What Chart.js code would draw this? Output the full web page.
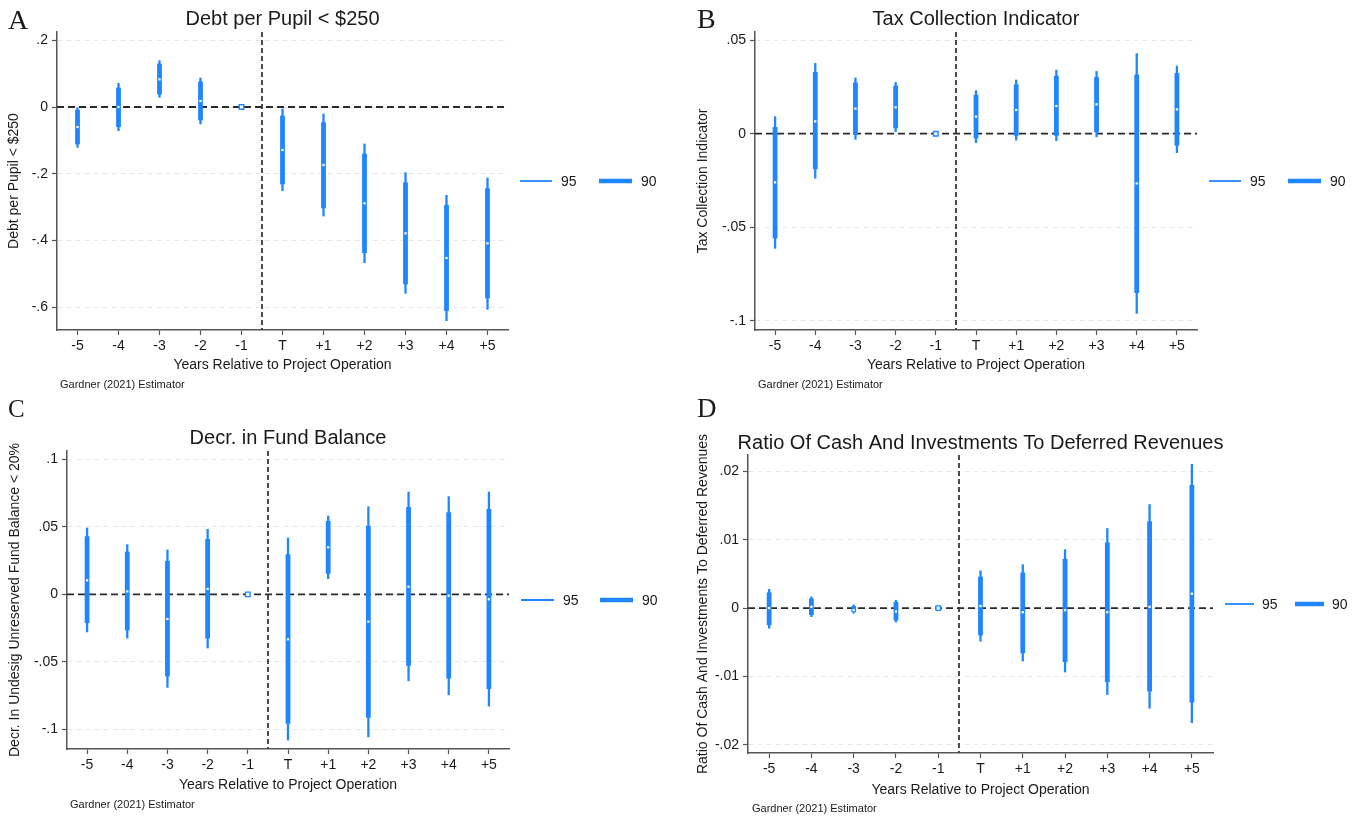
<!DOCTYPE html>
<html>
<head>
<meta charset="utf-8">
<script src="https://cdn.jsdelivr.net/npm/chart.js@4.4.1/dist/chart.umd.min.js"></script>
<style>
  body { margin: 0; background: #fff; }
  canvas { position: absolute; }
</style>
</head>
<body>
<canvas id="panelA" width="680" height="395" style="left:0px;top:0px"></canvas>
<canvas id="panelB" width="685" height="395" style="left:680px;top:0px"></canvas>
<canvas id="panelC" width="680" height="424" style="left:0px;top:395px"></canvas>
<canvas id="panelD" width="685" height="424" style="left:680px;top:395px"></canvas>
<script>
// event-study estimates
const years = ['-5', '-4', '-3', '-2', '-1', 'T', '+1', '+2', '+3', '+4', '+5'];

// A: Debt per Pupil < $250
const estA  = [-0.060, 0.000, 0.083, 0.018, 0, -0.129, -0.174, -0.289, -0.379, -0.453, -0.409];
const lo95A = [-0.122, -0.072, 0.028, -0.052, null, -0.252, -0.328, -0.468, -0.560, -0.642, -0.608];
const hi95A = [0.000, 0.072, 0.140, 0.088, null, -0.005, -0.020, -0.110, -0.196, -0.264, -0.212];
const lo90A = [-0.112, -0.060, 0.038, -0.040, null, -0.232, -0.304, -0.438, -0.532, -0.612, -0.574];
const hi90A = [-0.008, 0.058, 0.130, 0.076, null, -0.026, -0.046, -0.140, -0.226, -0.294, -0.244];
const yTicksA = [-0.6, -0.4, -0.2, 0, 0.2];
const yLabelsA = ['-.6', '-.4', '-.2', '0', '.2'];

// B: Tax Collection Indicator
const estB  = [-0.0260, 0.0066, 0.0134, 0.0141, 0, 0.0091, 0.0127, 0.0148, 0.0157, -0.0266, 0.0130];
const lo95B = [-0.0615, -0.0240, -0.0032, 0.0009, null, -0.0050, -0.0036, -0.0039, -0.0018, -0.0963, -0.0103];
const hi95B = [0.0093, 0.0378, 0.0300, 0.0276, null, 0.0232, 0.0289, 0.0342, 0.0335, 0.0431, 0.0364];
const lo90B = [-0.0560, -0.0190, -0.0007, 0.0029, null, -0.0025, -0.0011, -0.0011, 0.0007, -0.0852, -0.0064];
const hi90B = [0.0036, 0.0330, 0.0274, 0.0257, null, 0.0207, 0.0264, 0.0310, 0.0303, 0.0317, 0.0324];
const yTicksB = [-0.1, -0.05, 0, 0.05];
const yLabelsB = ['-.1', '-.05', '0', '.05'];

// C: Decr. in Fund Balance
const estC  = [0.0104, 0.0022, -0.0183, 0.0040, 0, -0.0334, 0.0349, -0.0203, 0.0057, -0.0010, -0.0037];
const lo95C = [-0.0282, -0.0327, -0.0693, -0.0401, null, -0.1084, 0.0114, -0.1060, -0.0644, -0.0748, -0.0832];
const hi95C = [0.0495, 0.0371, 0.0332, 0.0485, null, 0.0421, 0.0584, 0.0653, 0.0762, 0.0728, 0.0762];
const lo90C = [-0.0213, -0.0267, -0.0609, -0.0327, null, -0.0960, 0.0153, -0.0916, -0.0530, -0.0624, -0.0703];
const hi90C = [0.0431, 0.0317, 0.0248, 0.0411, null, 0.0297, 0.0545, 0.0510, 0.0649, 0.0609, 0.0634];
const yTicksC = [-0.1, -0.05, 0, 0.05, 0.1];
const yLabelsC = ['-.1', '-.05', '0', '.05', '.1'];

// D: Ratio of cash and investments to deferred revenues
const estD  = [0.0000, 0.0002, -0.0003, -0.0005, 0, 0.0003, -0.0006, -0.0003, -0.0006, 0.0002, 0.0021];
const lo95D = [-0.0030, -0.0013, -0.0008, -0.0021, null, -0.0049, -0.0078, -0.0094, -0.0127, -0.0147, -0.0168];
const hi95D = [0.0028, 0.0017, 0.0005, 0.0012, null, 0.0055, 0.0064, 0.0086, 0.0117, 0.0152, 0.0211];
const lo90D = [-0.0025, -0.0010, -0.0006, -0.0018, null, -0.0040, -0.0066, -0.0079, -0.0108, -0.0122, -0.0138];
const hi90D = [0.0023, 0.0014, 0.0003, 0.0009, null, 0.0046, 0.0052, 0.0072, 0.0096, 0.0127, 0.0180];
const yTicksD = [-0.02, -0.01, 0, 0.01, 0.02];
const yLabelsD = ['-.02', '-.01', '0', '.01', '.02'];

const BLUE = '#1f86ff';
const AXIS = '#555';
const GRID = '#e6e6e6';
const TXT = '#1a1a1a';
const SANS = '"Liberation Sans", Arial, sans-serif';
const SERIF = '"Liberation Serif", "Times New Roman", serif';

Chart.defaults.font.family = SANS;
Chart.defaults.color = TXT;

// page-pixel layout of each panel
const panels = [
  { canvas: 'panelA', letter: 'A', title: 'Debt per Pupil < $250', yTitle: 'Debt per Pupil < $250',
    est: estA, lo95: lo95A, hi95: hi95A, lo90: lo90A, hi90: hi90A, ticks: yTicksA, labels: yLabelsA,
    min: -0.669, max: 0.225,
    box: { left: 0, top: 0, w: 680, h: 395 }, area: { left: 57, right: 508, top: 32, bottom: 330 },
    letterPos: [8, 29, 28], titleY: 25, note: [60, 388], xTitleY: 365, yTitleX: 14, legend: [[12, 44, 53], [91, 124, 133]] },
  { canvas: 'panelB', letter: 'B', title: 'Tax Collection Indicator', yTitle: 'Tax Collection Indicator',
    est: estB, lo95: lo95B, hi95: hi95B, lo90: lo90B, hi90: hi90B, ticks: yTicksB, labels: yLabelsB,
    min: -0.105, max: 0.0544,
    box: { left: 680, top: 0, w: 685, h: 395 }, area: { left: 755, right: 1197, top: 32, bottom: 330 },
    letterPos: [697, 28, 28], titleY: 25, note: [758, 388], xTitleY: 365, yTitleX: 703, legend: [[12, 44, 53], [91, 124, 133]] },
  { canvas: 'panelC', letter: 'C', title: 'Decr. in Fund Balance', yTitle: 'Decr. In Undesig Unreserved Fund Balance < 20%',
    est: estC, lo95: lo95C, hi95: hi95C, lo90: lo90C, hi90: hi90C, ticks: yTicksC, labels: yLabelsC,
    min: -0.1148, max: 0.1064,
    box: { left: 0, top: 395, w: 680, h: 424 }, area: { left: 67, right: 509, top: 451, bottom: 749 },
    letterPos: [8, 417, 25], titleY: 444, note: [70, 808], xTitleY: 785, yTitleX: 15, legend: [[12, 45, 54], [91, 124, 133]] },
  { canvas: 'panelD', letter: 'D', title: 'Ratio Of Cash And Investments To Deferred Revenues', yTitle: 'Ratio Of Cash And Investments To Deferred Revenues',
    est: estD, lo95: lo95D, hi95: hi95D, lo90: lo90D, hi90: hi90D, ticks: yTicksD, labels: yLabelsD,
    min: -0.0212, max: 0.0224,
    box: { left: 680, top: 395, w: 685, h: 424 }, area: { left: 748, right: 1213, top: 455, bottom: 753 },
    letterPos: [697, 417, 27], titleY: 449, note: [752, 812], xTitleY: 790, yTitleX: 703, legend: [[12, 41, 49], [82, 111, 119]] }
];

// reference lines, titles, note and the two-item legend
const panelDecor = {
  id: 'panelDecor',
  beforeDatasetsDraw(chart, args, o) {
    const { ctx, chartArea: a, scales: { x, y } } = chart;
    ctx.save();
    ctx.strokeStyle = '#2a2a2a';
    ctx.lineWidth = 1.8;
    ctx.setLineDash([7, 4]);
    const y0 = y.getPixelForValue(0);
    ctx.beginPath(); ctx.moveTo(a.left, y0); ctx.lineTo(a.right, y0); ctx.stroke();
    ctx.strokeStyle = '#3a3a3a';
    ctx.setLineDash([5, 3]);
    const xb = Math.round(x.getPixelForValue(4.5));
    ctx.beginPath(); ctx.moveTo(xb, a.top); ctx.lineTo(xb, a.bottom); ctx.stroke();
    ctx.restore();
  },
  afterDraw(chart, args, o) {
    const { ctx, chartArea: a } = chart;
    const p = o.panel, bx = p.box.left, by = p.box.top;
    ctx.save();
    ctx.fillStyle = TXT;
    ctx.textBaseline = 'alphabetic';
    ctx.textAlign = 'center';
    ctx.font = '20px ' + SANS;
    ctx.fillText(p.title, (a.left + a.right) / 2, p.titleY - by);
    ctx.textAlign = 'left';
    ctx.font = p.letterPos[2] + 'px ' + SERIF;
    ctx.fillText(p.letter, p.letterPos[0] - bx, p.letterPos[1] - by);
    ctx.font = '11px ' + SANS;
    ctx.fillText('Gardner (2021) Estimator', p.note[0] - bx, p.note[1] - by);
    const ly = (a.top + a.bottom) / 2;
    ctx.font = '14px ' + SANS;
    ctx.textBaseline = 'middle';
    chart.data.datasets.filter(d => d.type === 'bar').forEach((d, i) => {
      const [x1, x2, tx] = p.legend[i];
      ctx.strokeStyle = d.backgroundColor;
      ctx.lineWidth = d.legendLineWidth;
      ctx.beginPath(); ctx.moveTo(a.right + x1, ly); ctx.lineTo(a.right + x2, ly); ctx.stroke();
      ctx.fillText(d.label, a.right + tx, ly + 1);
    });
    ctx.restore();
  }
};

function drawPanel(p) {
  const ctx = document.getElementById(p.canvas).getContext('2d');
  const isRef = c => p.lo95[c.dataIndex] === null;
  const yW = p.area.left - p.box.left;
  const xH = p.box.top + p.box.h - p.area.bottom;
  new Chart(ctx, {
    type: 'bar',
    data: {
      labels: years,
      datasets: [
        {
          type: 'line', label: 'est', data: p.est, showLine: false, order: 0,
          pointStyle: 'rect',
          pointRadius: c => isRef(c) ? 3.2 : 1.6,
          pointBackgroundColor: '#fff',
          pointBorderColor: BLUE,
          pointBorderWidth: c => isRef(c) ? 1.4 : 0
        },
        {
          type: 'bar', label: '95', order: 2, grouped: false,
          data: p.lo95.map((v, i) => v === null ? null : [v, p.hi95[i]]),
          backgroundColor: BLUE, borderWidth: 0, borderSkipped: false,
          maxBarThickness: 2.3, legendLineWidth: 1.8
        },
        {
          type: 'bar', label: '90', order: 1, grouped: false,
          data: p.lo90.map((v, i) => v === null ? null : [v, p.hi90[i]]),
          backgroundColor: BLUE, borderWidth: 0, borderSkipped: false,
          maxBarThickness: 4.8, legendLineWidth: 4.5
        }
      ]
    },
    options: {
      responsive: false,
      animation: false,
      events: [],
      layout: {
        padding: { left: 0, top: p.area.top - p.box.top, right: p.box.left + p.box.w - p.area.right, bottom: 0 }
      },
      plugins: {
        legend: { display: false },
        tooltip: { enabled: false },
        panelDecor: { panel: p }
      },
      scales: {
        x: {
          type: 'category', offset: true,
          grid: { drawOnChartArea: false, drawTicks: true, tickLength: 5, tickColor: AXIS, tickWidth: 1.2, offset: false },
          border: { display: true, color: AXIS, width: 1.5 },
          ticks: { color: TXT, font: { size: 14 }, padding: 3, maxRotation: 0, autoSkip: false },
          title: {
            display: true, text: 'Years Relative to Project Operation', color: TXT, font: { size: 14 },
            padding: { top: 0, bottom: p.box.top + p.box.h - p.xTitleY - 8.4 }
          },
          afterFit: s => { s.height = xH; }
        },
        y: {
          type: 'linear', min: p.min, max: p.max,
          afterBuildTicks: s => { s.ticks = p.ticks.map(v => ({ value: v })); },
          grid: { color: GRID, lineWidth: 1, drawTicks: true, tickLength: 5, tickColor: AXIS, tickWidth: 1.2 },
          border: { display: true, color: AXIS, width: 1.5, dash: [5, 4] },
          ticks: { color: TXT, font: { size: 14 }, padding: 4, callback: (v, i) => p.labels[i] },
          title: {
            display: true, text: p.yTitle, color: TXT, font: { size: 14 },
            padding: { top: p.yTitleX - p.box.left - 8.4, bottom: 0 }
          },
          afterFit: s => { s.width = yW; }
        }
      }
    },
    plugins: [panelDecor]
  });
}

panels.forEach(drawPanel);
</script>
</body>
</html>
